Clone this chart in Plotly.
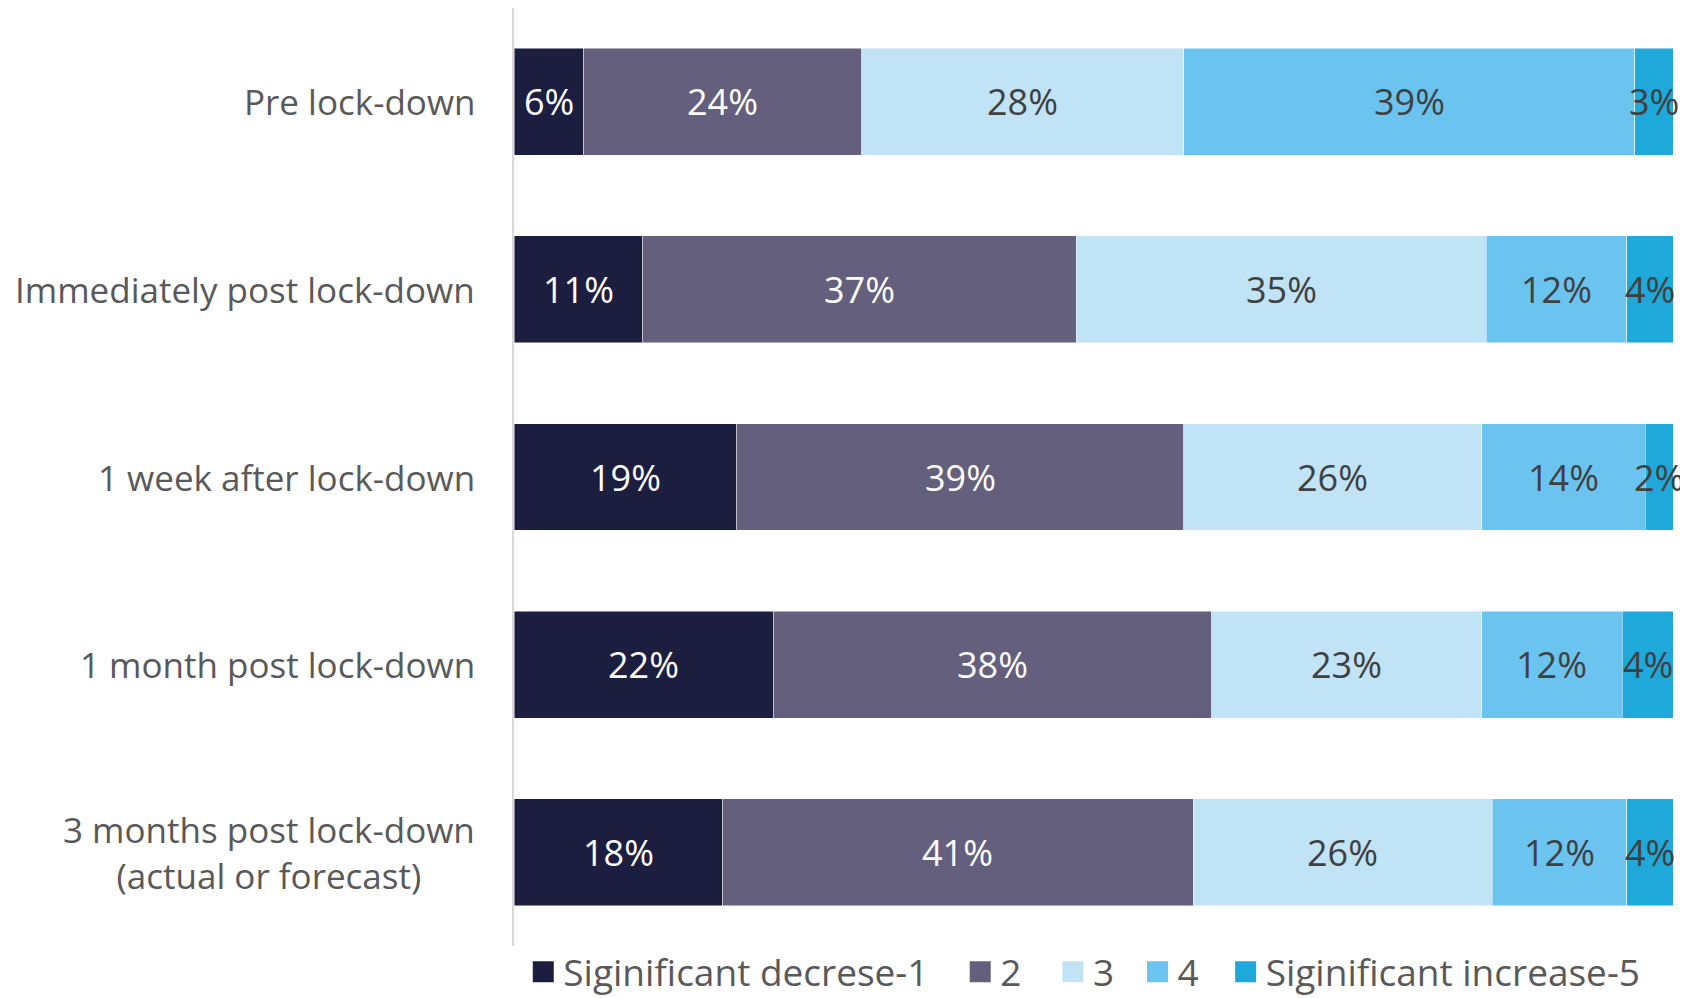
import plotly.graph_objects as go

categories = [
    "Pre lock-down",
    "Immediately post lock-down",
    "1 week after lock-down",
    "1 month post lock-down",
    "3 months post lock-down<br>(actual or forecast)",
]
series_names = ["Siginificant decrese-1", "2", "3", "4", "Siginificant increase-5"]
s1 = [6.0, 11.1, 19.2, 22.4, 18.0]
s2 = [24.0, 37.4, 38.6, 37.8, 40.6]
s3 = [27.8, 35.4, 25.7, 23.3, 25.8]
s4 = [38.9, 12.1, 14.1, 12.1, 11.6]
s5 = [3.3, 4.0, 2.4, 4.4, 4.0]
series_values = [s1, s2, s3, s4, s5]

colors = ["#1c1e40", "#645f7c", "#c0e3f6", "#6bc4f0", "#1fa8da"]
label_colors = ["#ffffff", "#ffffff", "#404040", "#404040", "#404040"]
legend_x = [0.008, 0.385, 0.465, 0.538, 0.614]
FONT = "Open Sans"

fig = go.Figure()
for name, vals, col in zip(series_names, series_values, colors):
    fig.add_trace(go.Bar(
        y=categories, x=vals, orientation="h", name=name,
        marker=dict(color=col, line=dict(color="rgba(255,255,255,0.6)", width=0.8)),
        showlegend=False, hoverinfo="skip",
    ))
# legend proxies (larger square symbols), one legend per entry
legend_ids = ["legend", "legend2", "legend3", "legend4", "legend5"]
for name, col, lid in zip(series_names, colors, legend_ids):
    fig.add_trace(go.Scatter(
        x=[None], y=[None], mode="markers", name=name, legend=lid,
        marker=dict(symbol="square", size=16, color=col, line=dict(color=col, width=5)),
    ))

annotations = []
for j, cat in enumerate(categories):
    cum = 0.0
    for i, vals in enumerate(series_values):
        v = vals[j]
        annotations.append(dict(
            x=cum + v / 2, y=cat, xref="x", yref="y",
            text=f"{round(v)}%", showarrow=False,
            font=dict(family=FONT, size=36, color=label_colors[i]),
        ))
        cum += v
    annotations.append(dict(
        x=0, xref="paper", y=cat, yref="y", xanchor="right", xshift=-37,
        text=cat, showarrow=False, align="center",
        font=dict(family=FONT, size=35, color="#595959"),
    ))

legend_style = dict(
    orientation="h", yanchor="middle", y=-0.028, xanchor="left",
    font=dict(family=FONT, size=37, color="#595959"),
    itemclick=False, itemdoubleclick=False, bgcolor="rgba(0,0,0,0)",
)
legend_layout = {lid: dict(legend_style, x=lx) for lid, lx in zip(legend_ids, legend_x)}

fig.update_layout(
    barmode="stack",
    bargap=0.43,
    width=1680, height=990,
    margin=dict(l=506, r=15, t=0, b=52, autoexpand=False),
    paper_bgcolor="white", plot_bgcolor="white",
    annotations=annotations,
    font=dict(family=FONT, color="#595959"),
    xaxis=dict(range=[0, 100], visible=False, fixedrange=True),
    yaxis=dict(
        categoryorder="array", categoryarray=categories, autorange="reversed",
        showticklabels=False, showline=True, linecolor="#d9d9d9", linewidth=1.5,
        showgrid=False, zeroline=False, ticks="", fixedrange=True,
    ),
    **legend_layout,
)

fig.write_html("out.html")
